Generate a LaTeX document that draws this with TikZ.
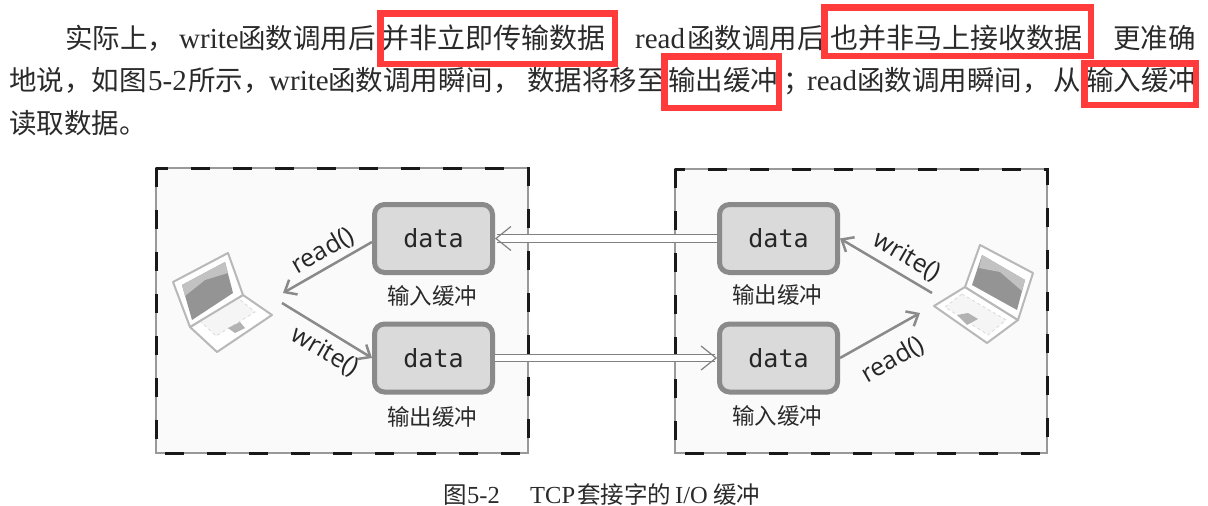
\documentclass[tikz,border=0pt]{standalone}
\usepackage{fontspec}
\setmainfont{Liberation Serif}
\newfontfamily\cjk{Noto Sans CJK SC}
\newfontfamily\monof{DejaVu Sans Mono}
\newfontfamily\labf{Open Sans}
\usetikzlibrary{arrows.meta}
\definecolor{ink}{HTML}{2A2A2A}
\definecolor{mark}{HTML}{FF3B3B}
\definecolor{edge}{HTML}{8A8A8A}
\definecolor{bufill}{HTML}{DADADA}
\tikzset{
  x=1pt,y=-1pt,
  bodyc/.style={anchor=base west,inner sep=0,text=ink,font=\cjk\fontsize{27.5}{30}\selectfont},
  bodyw/.style={anchor=base west,inner sep=0,text=ink,font=\cjk\fontsize{28}{30}\selectfont},
  bodyl/.style={anchor=base west,inner sep=0,text=ink,font=\fontsize{29}{30}\selectfont},
  capc/.style={anchor=base west,inner sep=0,text=ink,font=\cjk\fontsize{23.5}{26}\selectfont},
  capl/.style={anchor=base west,inner sep=0,text=ink,font=\fontsize{24.5}{26}\selectfont},
  redbox/.style={draw=mark,line width=6.5pt},
  framebg/.style={fill=black!2,draw=black!40,line width=2pt},
  framedash/.style={draw=black!90,line width=3pt,dash pattern=on 19pt off 23pt},
  buffer/.style={draw=edge,line width=5pt,fill=bufill,rounded corners=10pt,minimum width=118pt,minimum height=68pt,inner sep=0,text=black!85,font=\monof\fontsize{25}{28}\selectfont},
  buflabel/.style={inner sep=0,text=ink,font=\cjk\fontsize{22.5}{25}\selectfont},
  call/.style={inner sep=0,text=black!85,font=\labf\fontsize{25}{28}\selectfont},
  callarrow/.style={draw=edge,line width=2.5pt,-{Straight Barb[length=10pt,width=17pt]}},
  netarrow/.style={draw=black!50,double=white,double distance=6.5pt,line width=1.2pt,-{Straight Barb[length=15pt,width=24pt]}},
  lapbody/.style={fill=white,draw=black!28,line width=2pt,line join=round},
  lapscreen/.style={fill=black!42},
  lapband/.style={fill=black!24},
  lapkeys/.style={fill=black!4,draw=black!15,line width=.8pt,dashed},
  lappad/.style={fill=black!30},
}
\begin{document}
\begin{tikzpicture}
\useasboundingbox (0,0) rectangle (1208,506);
\fill[white] (0,0) rectangle (1208,506);
% paragraph
\node[bodyc] (a1) at (65,48) {实际上，};
\node[bodyl] (a2) at (179,48) {write};
\node[bodyc] (a3) at (238,48) {函数调用后};
\node[bodyw] (a4) at (381,48) {并非立即传输数据};
\node[bodyl] (a5) at (635,48) {read};
\node[bodyc] (a6) at (687,48) {函数调用后};
\node[bodyw] (a7) at (830,48) {也并非马上接收数据};
\node[bodyc] (a8) at (1113,48) {更准确};
\node[bodyc] (b1) at (9,90) {地说，如图};
\node[bodyl] (b2) at (148,90) {5-2};
\node[bodyc] (b3) at (188,90) {所示，};
\node[bodyl] (b4) at (269,90) {write};
\node[bodyc] (b5) at (328,90) {函数调用瞬间，};
\node[bodyc] (b6) at (527,90) {数据将移至};
\node[bodyc] (b7) at (668,90) {输出缓冲};
\node[bodyc] (b8) at (783,90) {；};
\node[bodyl] (b9) at (807,90) {read};
\node[bodyc] (b10) at (857,90) {函数调用瞬间，};
\node[bodyc] (b11) at (1053,90) {从};
\node[bodyc] (b12) at (1086,90) {输入缓冲};
\node[bodyc] (c1) at (9,133) {读取数据。};
% red marks
\draw[redbox] (380.25,13.25) rectangle (614.75,63.75);
\draw[redbox] (824.25,7.25) rectangle (1090.75,55.75);
\draw[redbox] (664.25,56.25) rectangle (778.75,107.75);
\draw[redbox] (1084.25,63.25) rectangle (1195.75,104.75);
% frames
\draw[framebg] (156,168) rectangle (528,453);
\draw[framebg] (675,169) rectangle (1047,453);
\draw[framedash] (156,168) rectangle (528,453);
\draw[framedash] (675,169) rectangle (1047,453);
% buffers
\node[buffer] (bufLa) at (433.5,238.5) {data};
\node[buffer] (bufLb) at (433.5,358) {data};
\node[buffer] (bufRa) at (778.5,238.5) {data};
\node[buffer] (bufRb) at (778.5,358) {data};
\node[buflabel] (labLa) at (432,296) {输入缓冲};
\node[buflabel] (labLb) at (432,417) {输出缓冲};
\node[buflabel] (labRa) at (777,295) {输出缓冲};
\node[buflabel] (labRb) at (777,416) {输入缓冲};
% laptop left
\draw[lapbody] (190,327) -- (243,295) -- (272,315) -- (217,352) -- cycle;
\draw[lapkeys] (199,320) -- (238,298) -- (255,312) -- (216,336) -- cycle;
\fill[lappad] (228,328) -- (240,322) -- (245,328) -- (235,333) -- cycle;
\draw[lapbody] (173,282) -- (228,253) -- (243,295) -- (190,327) -- cycle;
\fill[lapscreen] (182,285) -- (225,262) -- (233,293) -- (192,320) -- cycle;
\fill[lapband] (182,285) -- (225,262) -- (228,273) -- (205,280) -- (185,296) -- cycle;
% laptop right
\draw[lapbody] (965,287) -- (1018,320) -- (987,343) -- (934,306) -- cycle;
\draw[lapkeys] (962,294) -- (1006,320) -- (988,335) -- (945,307) -- cycle;
\fill[lappad] (957,315) -- (968,313) -- (978,319) -- (967,325) -- cycle;
\draw[lapbody] (980,245) -- (1033,273) -- (1018,320) -- (965,287) -- cycle;
\fill[lapscreen] (982,255) -- (1025,280) -- (1017,310) -- (972,285) -- cycle;
\fill[lapband] (982,255) -- (1025,280) -- (1022,291) -- (1000,272) -- (979,268) -- cycle;
% connector ends
\coordinate (lapLin) at (283,293);
\coordinate (lapLout) at (282,303);
\coordinate (lapRin) at (920,313);
\coordinate (lapRout) at (932,293);
\draw[callarrow] ([yshift=-3.5pt]bufLa.west) -- (lapLin);
\draw[callarrow] (lapLout) -- (bufLb.west);
\draw[callarrow] (lapRout) -- (bufRa.east);
\draw[callarrow] (bufRb.east) -- (lapRin);
\draw[netarrow] (bufRa.west) -- (bufLa.east);
\draw[netarrow] (bufLb.east) -- (bufRb.west);
\node[call,rotate=30] (rdL) at (323,251) {read()};
\node[call,rotate=-30] (wrL) at (325,352) {write()};
\node[call,rotate=-30] (wrR) at (907,257) {write()};
\node[call,rotate=30] (rdR) at (893,360) {read()};
% caption
\node[capc] (d1) at (443,503) {图};
\node[capl] (d2) at (467,503) {5-2};
\node[capl] (d3) at (530,503) {TCP};
\node[capc] (d4) at (577,503) {套接字的};
\node[capl] (d5) at (675,503) {I/O};
\node[capc] (d6) at (713,503) {缓冲};
\end{tikzpicture}
\end{document}
